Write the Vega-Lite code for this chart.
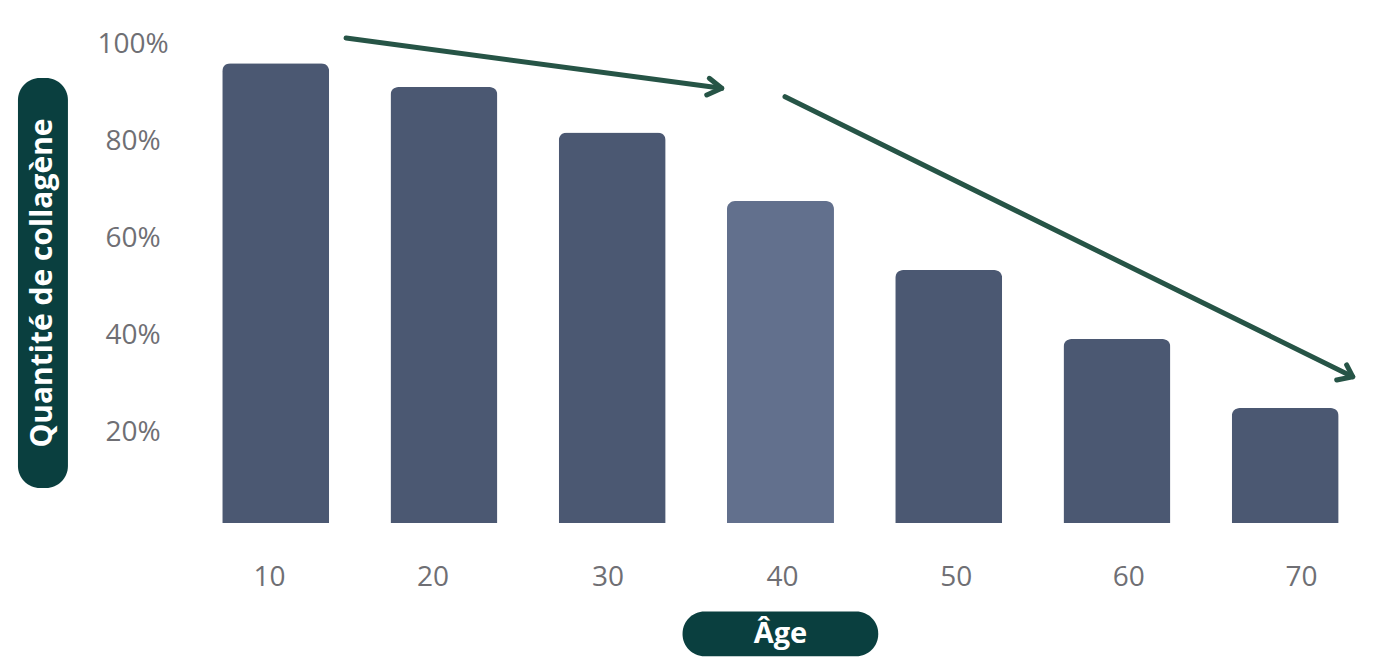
{
  "$schema": "https://vega.github.io/schema/vega-lite/v6.json",
  "autosize": "none",
  "width": 1177.75,
  "height": 479,
  "padding": {"left": 191.6, "top": 44, "right": 6.65, "bottom": 149},
  "background": "#ffffff",
  "config": {
    "view": {"stroke": null},
    "font": "Open Sans",
    "axis": {"domain": false, "ticks": false, "tickSize": 0, "grid": false, "title": null}
  },
  "datasets": {
    "bars": [
      {"age": 10, "pct": 96},
      {"age": 20, "pct": 91},
      {"age": 30, "pct": 81.5},
      {"age": 40, "pct": 67.2},
      {"age": 50, "pct": 52.8},
      {"age": 60, "pct": 38.4},
      {"age": 70, "pct": 24}
    ],
    "arrows": [
      {"seg": "a1", "ord": 1, "age": 14.18, "pct": 101.25},
      {"seg": "a1", "ord": 2, "age": 36.51, "pct": 90.75},
      {"seg": "h1", "ord": 1, "age": 35.77, "pct": 92.84},
      {"seg": "h1", "ord": 2, "age": 36.51, "pct": 90.75},
      {"seg": "h1", "ord": 3, "age": 35.62, "pct": 89.35},
      {"seg": "a2", "ord": 1, "age": 40.27, "pct": 89.0},
      {"seg": "a2", "ord": 2, "age": 74.01, "pct": 30.54},
      {"seg": "h2", "ord": 1, "age": 73.65, "pct": 32.99},
      {"seg": "h2", "ord": 2, "age": 74.01, "pct": 30.54},
      {"seg": "h2", "ord": 3, "age": 73.06, "pct": 29.85}
    ],
    "pills": [
      {"name": "y", "age": -5.32, "age2": -2.35, "pct": 92.9, "pct2": 7.3},
      {"name": "x", "age": 34.18, "age2": 45.81, "pct": -18.5, "pct2": -27.8}
    ],
    "labels": [
      {"label": "Quantité de collagène", "age": -3.83, "pct": 50.1, "rot": "v"},
      {"label": "Âge", "age": 40.0, "pct": -23.1, "rot": "h"}
    ]
  },
  "layer": [
    {
      "data": {"name": "bars"},
      "mark": {"type": "bar", "width": 107, "cornerRadiusTopLeft": 8, "cornerRadiusTopRight": 8},
      "encoding": {
        "x": {
          "field": "age", "type": "quantitative",
          "scale": {"domain": [5, 75], "nice": false, "zero": false, "padding": 0},
          "axis": {
            "values": [10, 20, 30, 40, 50, 60, 70],
            "labelFontSize": 28, "labelColor": "#6f6f74", "labelFont": "Open Sans",
            "labelPadding": 54, "labelBaseline": "middle",
            "labelOffset": {
              "condition": [
                {"test": "datum.value == 10", "value": -6.7},
                {"test": "datum.value == 20", "value": -11.5},
                {"test": "datum.value == 30", "value": -4.7},
                {"test": "datum.value == 40", "value": 1.5},
                {"test": "datum.value == 50", "value": 7},
                {"test": "datum.value == 60", "value": 11.3}
              ],
              "value": 15.8
            }
          }
        },
        "y": {
          "field": "pct", "type": "quantitative",
          "scale": {"domain": [0, 100], "nice": false, "padding": 0},
          "axis": {
            "values": [20, 40, 60, 80, 100],
            "labelExpr": "datum.value + '%'",
            "labelFontSize": 28, "labelColor": "#6f6f74", "labelFont": "Open Sans",
            "labelAlign": "center", "labelBaseline": "middle", "labelPadding": 59,
            "labelOffset": {
              "condition": [
                {"test": "datum.value == 20", "value": 4.8},
                {"test": "datum.value == 40", "value": 3.6},
                {"test": "datum.value == 60", "value": 2.4},
                {"test": "datum.value == 80", "value": 2}
              ],
              "value": 0
            }
          }
        },
        "color": {
          "condition": {"test": "datum.age == 40", "value": "#62708d"},
          "value": "#4b5872"
        }
      }
    },
    {
      "data": {"name": "arrows"},
      "mark": {"type": "line", "color": "#265446", "strokeWidth": 5, "strokeCap": "round", "strokeJoin": "round"},
      "encoding": {
        "x": {"field": "age", "type": "quantitative"},
        "y": {"field": "pct", "type": "quantitative"},
        "detail": {"field": "seg"},
        "order": {"field": "ord", "type": "quantitative"}
      }
    },
    {
      "data": {"name": "pills"},
      "mark": {"type": "rect", "color": "#0a3f3f", "cornerRadius": 22},
      "encoding": {
        "x": {"field": "age", "type": "quantitative"},
        "x2": {"field": "age2"},
        "y": {"field": "pct", "type": "quantitative"},
        "y2": {"field": "pct2"}
      }
    },
    {
      "data": {"name": "labels"},
      "transform": [{"filter": "datum.rot == 'v'"}],
      "mark": {"type": "text", "color": "#ffffff", "fontWeight": "bold", "fontSize": 30, "font": "Open Sans", "angle": 270, "align": "center", "baseline": "middle"},
      "encoding": {
        "x": {"field": "age", "type": "quantitative"},
        "y": {"field": "pct", "type": "quantitative"},
        "text": {"field": "label"}
      }
    },
    {
      "data": {"name": "labels"},
      "transform": [{"filter": "datum.rot == 'h'"}],
      "mark": {"type": "text", "color": "#ffffff", "fontWeight": "bold", "fontSize": 29, "font": "Open Sans", "align": "center", "baseline": "middle"},
      "encoding": {
        "x": {"field": "age", "type": "quantitative"},
        "y": {"field": "pct", "type": "quantitative"},
        "text": {"field": "label"}
      }
    }
  ]
}
